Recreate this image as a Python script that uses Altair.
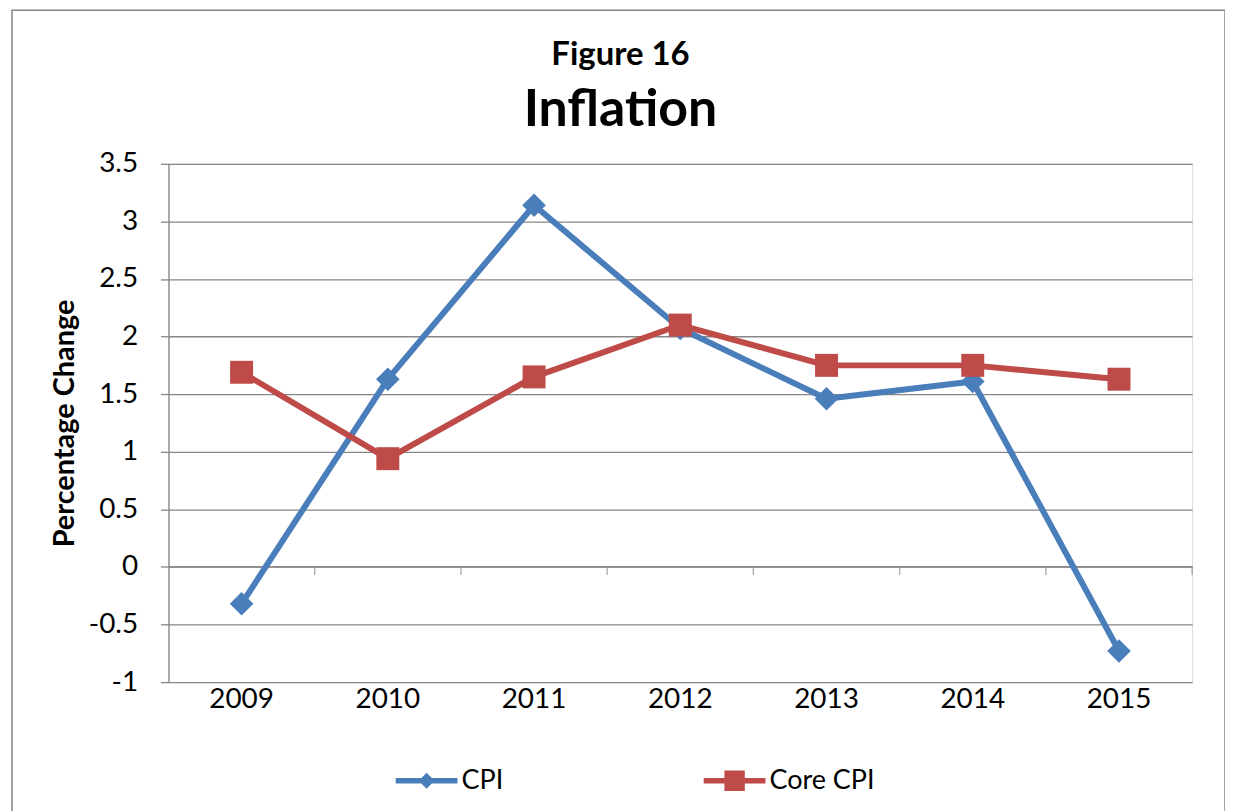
import altair as alt
import pandas as pd

years = ["2009", "2010", "2011", "2012", "2013", "2014", "2015"]
cpi = [-0.32, 1.63, 3.14, 2.07, 1.46, 1.61, -0.73]
core_cpi = [1.69, 0.94, 1.65, 2.10, 1.75, 1.75, 1.63]
series_names = ["CPI", "Core CPI"]
series_colors = ["#4A7EBB", "#BE4B48"]
y_ticks = [-1, -0.5, 0, 0.5, 1, 1.5, 2, 2.5, 3, 3.5]

FONT = "Lato"
GRAY = "#868686"

df_cpi = pd.DataFrame({"year": years, "series": "CPI", "value": cpi})
df_core = pd.DataFrame({"year": years, "series": "Core CPI", "value": core_cpi})
df_all = pd.concat([df_cpi, df_core], ignore_index=True)

W, H = 1027, 520

x_enc = alt.X(
    "year:N",
    sort=years,
    scale=alt.Scale(type="band", paddingInner=0, paddingOuter=0),
    axis=alt.Axis(
        title=None, ticks=False, domain=False, grid=False, labelAngle=0,
        labelAlign="center", labelBaseline="top",
        labelFont=FONT, labelFontSize=28, labelColor="black", labelPadding=3,
    ),
)
y_enc = alt.Y(
    "value:Q",
    scale=alt.Scale(domain=[-1, 3.5], nice=False, zero=False),
    axis=alt.Axis(
        title="Percentage Change", values=y_ticks, labelExpr="'' + datum.value",
        grid=True, gridColor=GRAY, gridWidth=1.3,
        domain=True, domainColor=GRAY, domainWidth=1.3,
        ticks=True, tickColor=GRAY, tickWidth=1.3, tickSize=8,
        labelFont=FONT, labelFontSize=28, labelColor="black", labelPadding=23,
        titleFont=FONT, titleFontSize=29, titleFontWeight="bold", titleColor="black",
        titleAngle=270, titleX=-104, titleY=260, titleAlign="center", titleBaseline="middle",
    ),
)


def series_line(data, color):
    return alt.Chart(data).mark_line(
        strokeWidth=6, strokeJoin="round", strokeCap="round", color=color
    ).encode(x=x_enc, y=y_enc)


def series_points(data, color, shape, size):
    return alt.Chart(data).mark_point(
        shape=shape, filled=True, size=size, opacity=1, color=color
    ).encode(x=x_enc, y=y_enc)


line_cpi = series_line(df_cpi, series_colors[0])
pts_cpi = series_points(df_cpi, series_colors[0], "diamond", 560)
line_core = series_line(df_core, series_colors[1])
pts_core = series_points(df_core, series_colors[1], "square", 530)

# zero line with category tick marks
one = pd.DataFrame({"k": [0]})
zero_rule = alt.Chart(one).mark_rule(color=GRAY, strokeWidth=1.3).encode(y=alt.datum(0))
tick_df = pd.DataFrame({"year": years})
zero_ticks = alt.Chart(tick_df).mark_tick(
    orient="vertical", color=GRAY, thickness=1.3, size=8, yOffset=4
).encode(x=alt.X("year:N", sort=years, bandPosition=1), y=alt.datum(0))

# legend layer (no drawn data, only the legend)
cpi_sym = "M-1,-0.09 L1,-0.09 L1,0.09 L-1,0.09 Z M0,-0.26 L0.26,0 L0,0.26 L-0.26,0 Z"
core_sym = "M-1,-0.09 L1,-0.09 L1,0.09 L-1,0.09 Z M-0.33,-0.33 L0.33,-0.33 L0.33,0.33 L-0.33,0.33 Z"
legend_layer = alt.Chart(df_all).transform_filter("false").mark_point(filled=True, opacity=1).encode(
    x=x_enc, y=y_enc,
    color=alt.Color(
        "series:N", scale=alt.Scale(domain=series_names, range=series_colors),
        legend=alt.Legend(
            title=None, orient="none", legendX=228, legendY=588, direction="horizontal",
            symbolSize=3844, symbolStrokeWidth=0, columnPadding=201,
            labelFont=FONT, labelFontSize=27, labelColor="black", labelOffset=4,
            padding=0,
        ),
    ),
    shape=alt.Shape("series:N", scale=alt.Scale(domain=series_names, range=[cpi_sym, core_sym])),
)

border = alt.Chart(one).mark_rect(fill=None, stroke=GRAY, strokeWidth=1.5).encode(
    x=alt.value(-157), x2=alt.value(1060), y=alt.value(-154), y2=alt.value(700)
)

chart = alt.layer(
    border, zero_rule, zero_ticks, line_cpi, pts_cpi, line_core, pts_core, legend_layer
).properties(
    width=W, height=H,
    title=alt.TitleParams(
        text="Figure 16", subtitle="Inflation",
        anchor="middle", frame="group", dx=-60, offset=-127,
        font=FONT, fontSize=33, fontWeight="bold", color="black",
        subtitleFont=FONT, subtitleFontSize=52, subtitleFontWeight="bold",
        subtitleColor="black", subtitlePadding=13,
    ),
    autosize=alt.AutoSizeParams(type="none"),
    padding={"left": 161, "top": 155, "right": 33, "bottom": 128},
).configure_view(stroke=None).configure(background="white")

chart.save("out.html", embed_options={"renderer": "svg", "actions": False})
